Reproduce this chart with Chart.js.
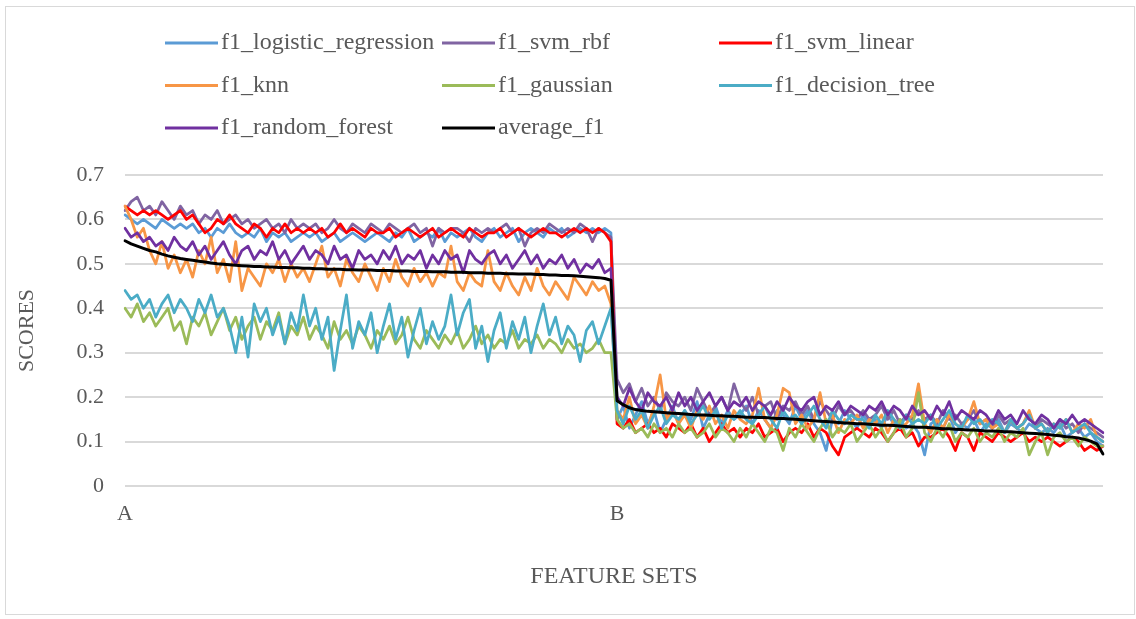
<!DOCTYPE html>
<html><head><meta charset="utf-8">
<script src="https://cdn.jsdelivr.net/npm/chart.js@4.4.1/dist/chart.umd.min.js"></script>
<style>
html,body{margin:0;padding:0;background:#fff;}
#wrap{position:relative;width:1136px;height:619px;}
#frame{position:absolute;left:5px;top:6px;width:1128px;height:607px;border:1px solid #d9d9d9;pointer-events:none;}
canvas{display:block;}
</style></head><body>
<div id="wrap"><canvas id="c" width="1136" height="619"></canvas><div id="frame"></div></div>
<script>
// number of feature sets in group A (the rest belong to group B)
const groupASize = 80;
const tickNames = ['A', 'B'];

const seriesNames = ['f1_logistic_regression','f1_svm_rbf','f1_svm_linear','f1_knn','f1_gaussian','f1_decision_tree','f1_random_forest','average_f1'];
const seriesColors = ['#5B9BD5','#8064A2','#FF0000','#F79646','#9BBB59','#4BACC6','#7030A0','#000000'];

const f1LogisticRegression = [
.61,.60,.59,.60,.59,.58,.60,.59,.58,.59,
.58,.59,.57,.58,.56,.58,.57,.59,.57,.56,
.57,.56,.58,.55,.57,.56,.57,.55,.56,.57,
.56,.57,.55,.56,.57,.55,.56,.57,.56,.55,
.56,.57,.56,.55,.57,.56,.58,.55,.56,.57,
.56,.58,.55,.57,.56,.57,.58,.56,.55,.57,
.58,.56,.57,.58,.55,.57,.58,.57,.56,.58,
.57,.58,.56,.57,.58,.57,.58,.57,.58,.57,
.15,.18,.13,.16,.19,.14,.17,.12,.15,.18,
.14,.17,.15,.19,.13,.16,.18,.14,.17,.15,
.16,.18,.14,.17,.15,.13,.17,.16,.14,.18,
.15,.17,.14,.12,.08,.15,.14,.17,.15,.13,
.16,.14,.15,.13,.16,.14,.15,.13,.14,.12,
.07,.14,.15,.13,.16,.12,.14,.13,.15,.12,
.14,.13,.15,.12,.14,.13,.12,.14,.13,.12,
.13,.12,.14,.11,.12,.13,.11,.12,.10,.09];

const f1SvmRbf = [
.62,.64,.65,.62,.63,.61,.64,.62,.60,.63,
.61,.62,.59,.61,.60,.62,.59,.60,.61,.59,
.60,.58,.59,.60,.58,.59,.57,.60,.58,.59,
.58,.59,.57,.58,.60,.58,.57,.59,.58,.57,
.59,.58,.57,.59,.58,.57,.58,.59,.57,.58,
.54,.58,.57,.58,.58,.57,.55,.58,.57,.58,
.57,.58,.59,.57,.58,.54,.57,.58,.57,.59,
.58,.57,.58,.57,.59,.58,.55,.58,.57,.56,
.24,.21,.23,.19,.22,.18,.20,.17,.21,.19,
.18,.20,.17,.22,.19,.16,.18,.20,.17,.23,
.19,.17,.20,.16,.18,.19,.15,.18,.17,.19,
.16,.18,.15,.19,.17,.15,.18,.16,.17,.15,
.17,.15,.16,.18,.15,.17,.14,.16,.15,.17,
.15,.16,.14,.17,.15,.16,.14,.15,.17,.14,
.15,.13,.16,.14,.15,.13,.14,.16,.13,.15,
.14,.13,.15,.13,.14,.12,.14,.13,.12,.11];

const f1SvmLinear = [
.63,.62,.61,.62,.61,.62,.61,.60,.61,.62,
.60,.61,.59,.57,.58,.60,.59,.61,.59,.58,
.57,.59,.58,.56,.58,.57,.59,.57,.58,.57,
.58,.57,.58,.56,.57,.59,.57,.58,.57,.56,
.58,.57,.57,.58,.56,.57,.58,.57,.56,.57,
.58,.56,.57,.58,.57,.56,.58,.57,.56,.57,
.57,.58,.56,.57,.58,.57,.56,.57,.58,.57,
.57,.56,.57,.58,.57,.58,.57,.58,.57,.55,
.14,.13,.15,.12,.13,.14,.12,.13,.11,.14,
.13,.12,.14,.11,.13,.10,.12,.14,.12,.13,
.11,.13,.12,.14,.11,.12,.13,.10,.12,.13,
.12,.14,.11,.13,.12,.09,.07,.11,.12,.13,
.12,.11,.13,.12,.10,.12,.13,.11,.12,.09,
.11,.11,.12,.13,.11,.08,.12,.11,.08,.12,
.11,.10,.12,.11,.10,.11,.12,.10,.11,.10,
.11,.10,.09,.10,.11,.10,.08,.09,.08,.09];

const f1Knn = [
.63,.60,.56,.58,.53,.50,.55,.49,.52,.48,
.51,.47,.53,.50,.56,.48,.51,.46,.55,.44,
.49,.47,.45,.50,.48,.51,.46,.50,.47,.49,
.46,.50,.54,.47,.49,.45,.51,.48,.46,.50,
.47,.44,.49,.46,.51,.47,.45,.49,.46,.48,
.45,.48,.47,.54,.46,.44,.48,.46,.45,.53,
.46,.44,.48,.45,.43,.47,.44,.49,.45,.43,
.46,.44,.42,.47,.45,.43,.46,.44,.45,.41,
.17,.15,.20,.14,.16,.13,.18,.25,.15,.17,
.14,.16,.13,.17,.15,.18,.14,.16,.13,.17,
.15,.14,.16,.22,.15,.13,.16,.22,.21,.14,
.16,.13,.15,.21,.14,.16,.12,.15,.14,.16,
.13,.15,.14,.16,.12,.15,.13,.14,.16,.23,
.14,.12,.15,.13,.16,.14,.13,.15,.19,.14,
.15,.13,.14,.12,.15,.13,.14,.17,.13,.14,
.12,.14,.13,.15,.12,.14,.13,.15,.11,.10];

const f1Gaussian = [
.40,.38,.41,.37,.39,.36,.38,.40,.35,.37,
.32,.38,.36,.39,.34,.37,.40,.35,.38,.33,
.36,.38,.33,.37,.35,.39,.32,.36,.34,.38,
.33,.36,.34,.31,.37,.33,.35,.32,.36,.34,
.31,.35,.33,.36,.32,.34,.38,.33,.31,.35,
.33,.31,.34,.32,.35,.31,.33,.36,.32,.34,
.31,.33,.32,.35,.31,.33,.32,.34,.31,.33,
.32,.30,.33,.31,.32,.30,.31,.33,.30,.30,
.15,.13,.14,.12,.13,.11,.14,.12,.13,.11,
.14,.12,.13,.11,.12,.14,.11,.13,.12,.10,
.13,.11,.14,.12,.10,.13,.12,.08,.13,.11,
.14,.12,.10,.13,.15,.11,.13,.12,.14,.10,
.12,.14,.11,.13,.10,.12,.15,.11,.13,.21,
.12,.10,.13,.11,.14,.10,.12,.11,.13,.10,
.12,.11,.13,.10,.12,.11,.13,.07,.10,.12,
.07,.11,.12,.10,.11,.09,.11,.10,.09,.09];

const f1DecisionTree = [
.44,.42,.43,.40,.42,.38,.41,.43,.39,.42,
.40,.37,.42,.39,.43,.38,.40,.36,.30,.38,
.29,.41,.37,.40,.34,.38,.32,.39,.35,.43,
.36,.40,.33,.38,.26,.35,.43,.31,.37,.34,
.39,.30,.36,.41,.33,.38,.29,.35,.40,.32,
.37,.33,.36,.43,.34,.39,.42,.31,.36,.28,
.35,.39,.31,.37,.33,.38,.30,.36,.41,.34,
.38,.32,.36,.34,.28,.35,.37,.32,.36,.40,
.17,.14,.18,.15,.17,.13,.16,.18,.14,.16,
.15,.17,.14,.16,.18,.15,.17,.13,.16,.15,
.17,.15,.14,.16,.18,.15,.13,.17,.15,.16,
.14,.16,.18,.15,.13,.17,.15,.14,.16,.15,
.15,.13,.16,.14,.17,.15,.13,.16,.14,.15,
.14,.16,.13,.15,.17,.14,.13,.16,.14,.15,
.13,.15,.14,.12,.15,.13,.14,.16,.13,.14,
.12,.14,.13,.15,.12,.13,.14,.12,.11,.10];

const f1RandomForest = [
.58,.56,.57,.55,.56,.54,.55,.53,.56,.54,
.53,.55,.52,.54,.51,.53,.55,.52,.50,.53,
.54,.51,.53,.52,.55,.51,.53,.50,.52,.54,
.51,.53,.52,.50,.54,.51,.52,.49,.53,.51,
.52,.50,.53,.51,.54,.50,.52,.51,.53,.49,
.52,.50,.53,.51,.52,.48,.53,.51,.50,.52,
.53,.50,.52,.49,.51,.53,.50,.52,.49,.51,
.50,.52,.49,.51,.48,.50,.49,.51,.48,.49,
.20,.18,.22,.19,.17,.21,.19,.18,.20,.17,
.21,.18,.20,.17,.19,.21,.18,.20,.17,.19,
.18,.20,.17,.19,.18,.16,.19,.17,.20,.18,
.17,.19,.20,.16,.18,.17,.19,.16,.18,.17,
.16,.18,.17,.19,.16,.18,.17,.15,.18,.16,
.17,.15,.18,.16,.19,.15,.17,.16,.15,.17,
.16,.14,.17,.15,.16,.14,.17,.15,.14,.16,
.15,.13,.15,.14,.16,.14,.15,.14,.13,.12];

const averageF1 = [
.552,.545,.540,.535,.530,.527,.522,.518,.515,.512,
.510,.508,.506,.504,.502,.500,.499,.498,.497,.496,
.495,.494,.494,.493,.493,.492,.492,.491,.491,.490,
.490,.489,.489,.488,.488,.488,.487,.487,.486,.486,
.486,.485,.485,.485,.484,.484,.484,.483,.483,.483,
.482,.482,.482,.481,.481,.481,.480,.480,.480,.479,
.479,.479,.478,.478,.477,.477,.477,.476,.476,.475,
.475,.474,.474,.473,.472,.471,.470,.469,.467,.463,
.192,.183,.176,.172,.170,.168,.167,.166,.165,.164,
.163,.162,.161,.160,.160,.159,.158,.158,.157,.157,
.156,.155,.155,.154,.154,.153,.152,.152,.151,.150,
.149,.148,.147,.146,.145,.144,.143,.142,.141,.140,
.140,.139,.138,.137,.137,.136,.135,.134,.133,.132,
.132,.131,.130,.129,.129,.128,.127,.126,.126,.125,
.124,.124,.123,.122,.122,.121,.120,.119,.118,.117,
.116,.114,.113,.111,.110,.108,.105,.101,.095,.072];

const seriesValues = [f1LogisticRegression, f1SvmRbf, f1SvmLinear, f1Knn, f1Gaussian, f1DecisionTree, f1RandomForest, averageF1];

const categories = averageF1.map((_, i) => i === 0 ? tickNames[0] : (i === groupASize ? tickNames[1] : ''));

const FONT = 'Liberation Serif';
const TXT = '#595959';

const gridLegend = {
  id: 'gridLegend',
  afterDraw(chart) {
    const ctx = chart.ctx;
    ctx.save();
    ctx.font = '24px "' + FONT + '"';
    ctx.fillStyle = TXT;
    ctx.textBaseline = 'middle';
    ctx.textAlign = 'left';
    seriesNames.forEach((name, i) => {
      const col = i % 3, row = Math.floor(i / 3);
      const x0 = 165 + col * 277;
      const y = 43 + row * 42.5;
      ctx.strokeStyle = seriesColors[i];
      ctx.lineWidth = 3;
      ctx.beginPath();
      ctx.moveTo(x0, y);
      ctx.lineTo(x0 + 53, y);
      ctx.stroke();
      ctx.fillText(name, x0 + 56, y);
    });
    ctx.restore();
  }
};

new Chart(document.getElementById('c'), {
  type: 'line',
  data: {
    labels: categories,
    datasets: seriesValues.map((vals, i) => ({
      label: seriesNames[i],
      data: vals,
      borderColor: seriesColors[i],
      backgroundColor: seriesColors[i],
      borderWidth: i === 7 ? 3 : 2.75,
      pointRadius: 0,
      pointHoverRadius: 0,
      tension: 0,
      fill: false,
      borderJoinStyle: 'round',
      borderCapStyle: 'round',
      order: -i
    }))
  },
  options: {
    responsive: false,
    devicePixelRatio: 1,
    animation: false,
    events: [],
    layout: { padding: { top: 175, right: 33, left: 0, bottom: 0 } },
    plugins: { legend: { display: false }, tooltip: { enabled: false }, title: { display: false } },
    scales: {
      x: {
        type: 'category',
        ticks: { autoSkip: false, maxRotation: 0, minRotation: 0, padding: 15, color: TXT, font: { family: FONT, size: 22 } },
        grid: { display: false, drawTicks: false },
        border: { display: false },
        title: { display: true, text: 'FEATURE SETS', color: TXT, font: { family: FONT, size: 24 }, padding: { top: 0, bottom: 28 } },
        afterFit: s => { s.height = 133; }
      },
      y: {
        min: 0, max: 0.7,
        ticks: { stepSize: 0.1, padding: 21, color: TXT, font: { family: FONT, size: 22 },
          callback: v => (Math.abs(v) < 1e-9 ? '0' : (Math.round(v * 10) / 10).toFixed(1)) },
        grid: { color: '#d9d9d9', lineWidth: 2, drawTicks: false },
        border: { display: false },
        title: { display: true, text: 'SCORES', color: TXT, font: { family: FONT, size: 22 }, padding: { top: 14, bottom: 0 } },
        afterFit: s => { s.width = 125; }
      }
    }
  },
  plugins: [gridLegend]
});
</script>
</body></html>
